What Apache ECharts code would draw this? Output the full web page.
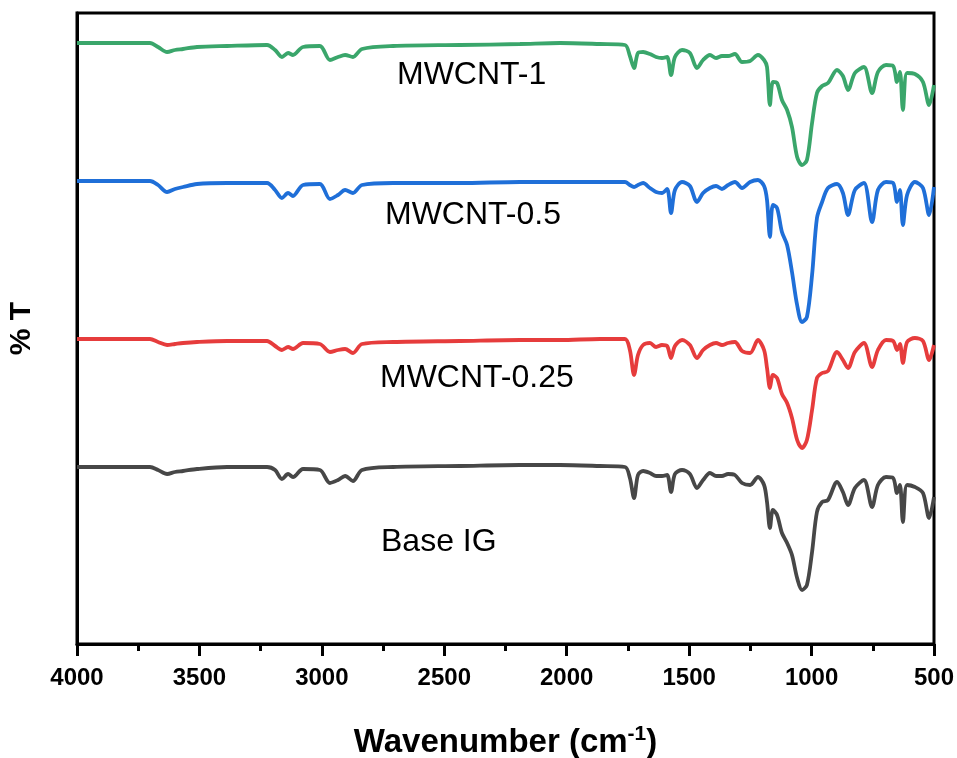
<!DOCTYPE html>
<html>
<head>
<meta charset="utf-8">
<script src="https://cdn.jsdelivr.net/npm/echarts@6/dist/echarts.min.js"></script>
<style>
html,body{margin:0;padding:0;background:#fff;}
#chart{width:957px;height:758px;}
</style>
</head>
<body>
<div id="chart"></div>
<script>
// Wavenumber grid (cm-1)
const wavenumber = [
  4000, 3702, 3669, 3632, 3600, 3567, 3510, 3387, 3224, 3191, 3163, 3138, 3118, 3077, 3008, 2967, 2934, 2905, 2873, 2836, 2709, 2436, 2191, 2027, 1864, 1762,
  1742, 1725, 1709, 1688, 1660, 1635, 1611, 1590, 1574, 1558, 1529, 1497, 1468, 1443, 1415, 1390, 1366, 1341, 1313, 1284,
  1251, 1219, 1194, 1182, 1170, 1158, 1141, 1121, 1100, 1080, 1059, 1039, 1019, 998, 978, 957, 933, 896, 872, 851,
  823, 786, 753, 729, 696, 667, 651, 639, 627, 610, 578, 545, 520, 500
];
// %T (offset, arbitrary units)
const mwcnt1 = [
  601, 601, 597, 592, 594, 595, 597, 598, 599, 594, 587, 591, 589, 597, 598, 584, 587, 589, 587, 595, 598, 599, 600, 601, 600, 599,
  588, 576, 591, 592, 590, 587, 586, 587, 569, 587, 594, 591, 576, 584, 589, 586, 588, 588, 590, 582,
  583, 589, 584, 577, 539, 562, 561, 544, 534, 517, 487, 479, 484, 521, 551, 558, 561, 574, 568, 554,
  571, 577, 551, 572, 579, 578, 562, 572, 534, 571, 570, 562, 539, 559
];
const mwcnt05 = [
  463, 463, 459, 452, 455, 457, 460, 461, 461, 454, 446, 451, 448, 459, 460, 445, 449, 454, 451, 459, 461, 461, 462, 462, 462, 462,
  459, 457, 459, 461, 456, 452, 451, 455, 431, 454, 462, 458, 442, 451, 456, 458, 455, 459, 462, 456,
  462, 464, 458, 444, 407, 439, 436, 412, 399, 372, 339, 322, 327, 369, 426, 442, 456, 460, 451, 429,
  454, 461, 422, 454, 462, 461, 442, 454, 419, 449, 462, 456, 429, 457
];
const mwcnt025 = [
  305, 305, 302, 299, 300, 301, 302, 303, 303, 298, 294, 297, 295, 301, 300, 292, 294, 295, 291, 300, 302, 303, 304, 304, 305, 305,
  294, 269, 289, 299, 301, 297, 299, 298, 286, 298, 304, 299, 286, 294, 299, 301, 299, 301, 302, 293,
  291, 304, 294, 276, 256, 269, 266, 250, 241, 226, 204, 196, 204, 234, 266, 271, 273, 292, 284, 276,
  292, 301, 277, 294, 304, 303, 294, 300, 281, 302, 306, 303, 284, 299
];
const baseIG = [
  177, 177, 174, 170, 172, 173, 175, 177, 177, 174, 165, 170, 167, 175, 174, 161, 164, 168, 163, 174, 177, 178, 179, 179, 178, 177,
  166, 146, 169, 173, 171, 168, 168, 169, 152, 170, 174, 170, 156, 164, 171, 168, 168, 170, 169, 161,
  159, 167, 159, 142, 116, 134, 129, 111, 101, 89, 66, 54, 59, 92, 132, 142, 144, 162, 152, 139,
  156, 164, 137, 159, 167, 166, 151, 159, 122, 159, 157, 151, 126, 147
];
const seriesNames = ['MWCNT-1', 'MWCNT-0.5', 'MWCNT-0.25', 'Base IG'];
const seriesColors = ['#3aa66b', '#1f6fd8', '#e63c3c', '#474747'];
const seriesValues = [mwcnt1, mwcnt05, mwcnt025, baseIG];
const xTicks = [4000, 3500, 3000, 2500, 2000, 1500, 1000, 500];

const chart = echarts.init(document.getElementById('chart'), null, {renderer: 'canvas'});
const FONT = '"Liberation Sans", Arial, sans-serif';

const option = {
  animation: false,
  backgroundColor: '#fff',
  grid: {left: 77, right: 23, top: 13, bottom: 114, containLabel: false, outerBoundsMode: 'none',
    show: true, borderColor: '#000', borderWidth: 3, backgroundColor: 'transparent'},
  xAxis: {
    type: 'value', inverse: true, min: 500, max: 4000, interval: 500,
    axisLine: {show: true, lineStyle: {color: '#000', width: 3}},
    axisTick: {show: true, inside: false, length: 12, lineStyle: {color: '#000', width: 3}},
    minorTick: {show: true, splitNumber: 2, length: 7, lineStyle: {color: '#000', width: 3}},
    splitLine: {show: false},
    axisLabel: {margin: 22, fontFamily: FONT, fontWeight: 'bold', fontSize: 24, color: '#000',
      formatter: v => xTicks.includes(v) ? String(v) : ''},
    name: '{a|Wavenumber (cm}{b|-1}{a|)}',
    nameLocation: 'middle', nameGap: 80,
    nameTextStyle: {
      rich: {
        a: {fontFamily: FONT, fontWeight: 'bold', fontSize: 33, color: '#000'},
        b: {fontFamily: FONT, fontWeight: 'bold', fontSize: 21, color: '#000', padding: [0, 0, 16, 0]}
      }
    }
  },
  yAxis: {
    type: 'value', min: 0, max: 631,
    axisLine: {show: true, lineStyle: {color: '#000', width: 3}},
    axisTick: {show: false}, axisLabel: {show: false}, splitLine: {show: false},
    name: '% T', nameLocation: 'middle', nameGap: 40, nameRotate: 90,
    nameTextStyle: {fontFamily: FONT, fontWeight: 'bold', fontSize: 30, color: '#000'}
  },
  series: seriesValues.map((vals, k) => ({
    name: seriesNames[k], type: 'line', showSymbol: false, smooth: 0.3,
    lineStyle: {color: seriesColors[k], width: 3.8}, itemStyle: {color: seriesColors[k]},
    data: wavenumber.map((w, i) => [w, vals[i]])
  })),
  graphic: [
    {type: 'text', left: 397, top: 59, style: {text: 'MWCNT-1', font: '32px ' + FONT, fill: '#000'}},
    {type: 'text', left: 385, top: 199, style: {text: 'MWCNT-0.5', font: '32px ' + FONT, fill: '#000'}},
    {type: 'text', left: 380, top: 362, style: {text: 'MWCNT-0.25', font: '32px ' + FONT, fill: '#000'}},
    {type: 'text', left: 381, top: 526, style: {text: 'Base IG', font: '32px ' + FONT, fill: '#000'}}
  ]
};
chart.setOption(option);
</script>
</body>
</html>
